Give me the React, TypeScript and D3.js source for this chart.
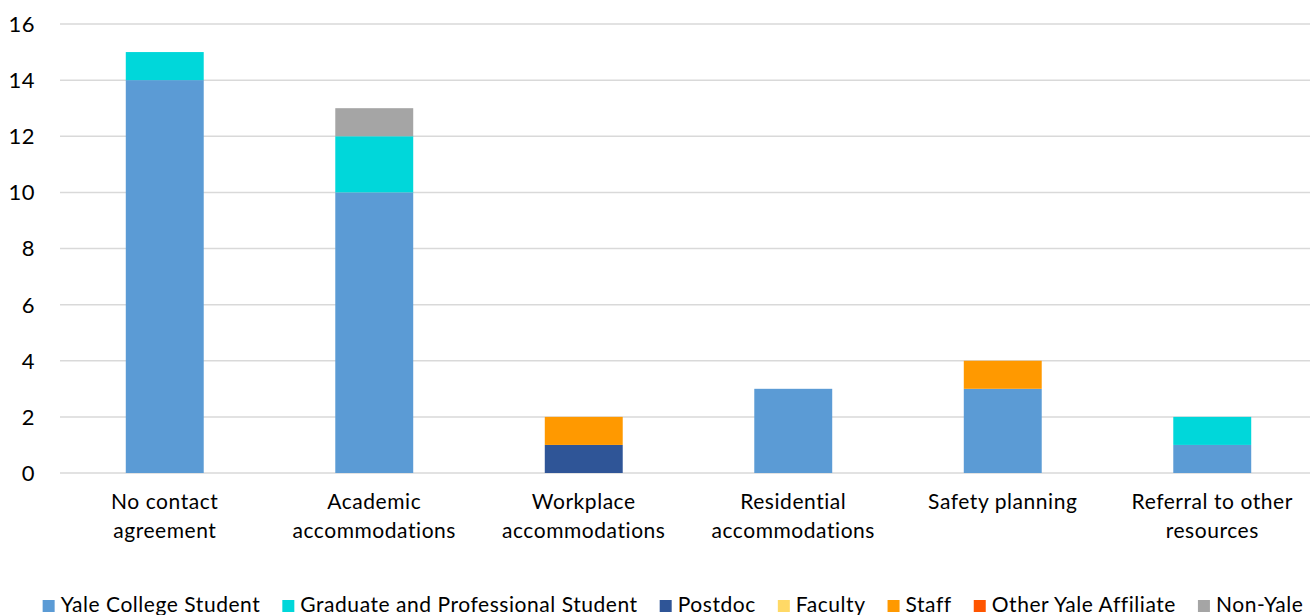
import React, { useRef, useEffect } from 'react';
import * as d3 from 'd3';

const categories = [
  ['No contact', 'agreement'],
  ['Academic', 'accommodations'],
  ['Workplace', 'accommodations'],
  ['Residential', 'accommodations'],
  ['Safety planning'],
  ['Referral to other', 'resources'],
];

const seriesNames = [
  'Yale College Student',
  'Graduate and Professional Student',
  'Postdoc',
  'Faculty',
  'Staff',
  'Other Yale Affiliate',
  'Non-Yale',
];
const seriesColors = ['#5B9BD5', '#00D7DA', '#2F5597', '#FFD966', '#FF9900', '#FF5500', '#A5A5A5'];

const yaleCollege = [14, 10, 0, 3, 3, 1];
const graduate = [1, 2, 0, 0, 0, 1];
const postdoc = [0, 0, 1, 0, 0, 0];
const faculty = [0, 0, 0, 0, 0, 0];
const staff = [0, 0, 1, 0, 1, 0];
const otherAffiliate = [0, 0, 0, 0, 0, 0];
const nonYale = [0, 1, 0, 0, 0, 0];

const yTicks = [0, 2, 4, 6, 8, 10, 12, 14, 16];

const App: React.FC = () => {
  const ref = useRef<SVGSVGElement | null>(null);

  useEffect(() => {
    if (!ref.current) return;
    const svg = d3.select(ref.current);
    const width = 1310;
    const height = 615;
    const margin = { top: 24, right: -7, bottom: 142, left: 60 };
    const font = 'Lato, "Noto Sans", sans-serif';
    const spacing = 0.55;

    svg.selectAll('*').remove();
    svg.attr('width', width).attr('height', height);

    const allSeries = [yaleCollege, graduate, postdoc, faculty, staff, otherAffiliate, nonYale];
    const rows = categories.map((c, i) => {
      const row: Record<string, number> = {};
      seriesNames.forEach((s, j) => { row[s] = allSeries[j][i]; });
      return row;
    });
    const stacked = d3.stack<Record<string, number>>().keys(seriesNames)(rows);

    const x = d3.scaleBand<number>()
      .domain(categories.map((_, i) => i))
      .range([margin.left, width - margin.right])
      .paddingInner(0.628)
      .paddingOuter(0.314);
    const y = d3.scaleLinear().domain([0, 16]).range([height - margin.bottom, margin.top]);

    // gridlines
    svg.append('g')
      .selectAll('line')
      .data(yTicks)
      .join('line')
      .attr('x1', margin.left)
      .attr('x2', width)
      .attr('y1', d => y(d))
      .attr('y2', d => y(d))
      .attr('stroke', '#D9D9D9')
      .attr('stroke-width', 1.5);

    // y labels
    svg.append('g')
      .selectAll('text')
      .data(yTicks)
      .join('text')
      .attr('x', 35)
      .attr('y', d => y(d))
      .attr('dy', '0.36em')
      .attr('text-anchor', 'end')
      .attr('font-family', font)
      .attr('font-size', 22)
      .attr('letter-spacing', spacing)
      .attr('fill', '#000')
      .text(d => d);

    // bars
    svg.append('g')
      .selectAll('g')
      .data(stacked)
      .join('g')
      .attr('fill', (_, i) => seriesColors[i])
      .selectAll('rect')
      .data(d => d.map((v, i) => ({ v, i })))
      .join('rect')
      .attr('x', d => x(d.i)!)
      .attr('width', x.bandwidth())
      .attr('y', d => y(d.v[1]))
      .attr('height', d => y(d.v[0]) - y(d.v[1]));

    // category labels
    const cat = svg.append('g')
      .selectAll('text')
      .data(categories)
      .join('text')
      .attr('x', (_, i) => x(i)! + x.bandwidth() / 2)
      .attr('y', 509)
      .attr('text-anchor', 'middle')
      .attr('font-family', font)
      .attr('font-size', 21)
      .attr('letter-spacing', spacing)
      .attr('fill', '#000');
    cat.selectAll('tspan')
      .data(d => d)
      .join('tspan')
      .attr('x', function () { return (this.parentNode as SVGTextElement).getAttribute('x'); })
      .attr('dy', (_, i) => (i === 0 ? 0 : 29))
      .text(d => d);

    // legend
    const legend = svg.append('g');
    const items = legend.selectAll('g')
      .data(seriesNames)
      .join('g');
    items.append('rect')
      .attr('width', 12)
      .attr('height', 12)
      .attr('y', -12)
      .attr('fill', (_, i) => seriesColors[i]);
    const labels = items.append('text')
      .attr('x', 18)
      .attr('font-family', font)
      .attr('font-size', 21)
      .attr('letter-spacing', spacing)
      .attr('fill', '#000')
      .text(d => d);
    let pos = 0;
    const offsets: number[] = [];
    labels.each(function () {
      offsets.push(pos);
      pos += 18 + (this as SVGTextElement).getComputedTextLength() + 22;
    });
    const total = pos - 22;
    const start = 673 - total / 2;
    items.attr('transform', (_, i) => `translate(${start + offsets[i]},612)`);
  }, []);

  return <svg ref={ref} style={{ position: 'absolute', left: 0, top: 0 }}></svg>;
};

export default App;
